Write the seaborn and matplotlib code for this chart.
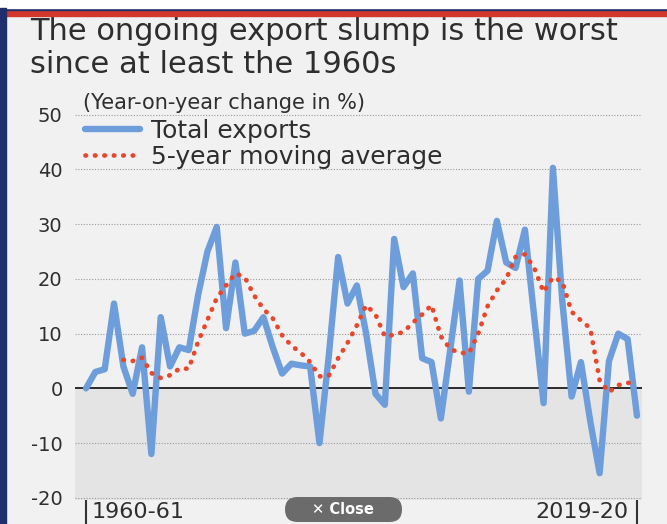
import numpy as np
import pandas as pd
import matplotlib
matplotlib.use("Agg")
import matplotlib.pyplot as plt
import seaborn as sns
from matplotlib.patches import Rectangle, FancyBboxPatch
from matplotlib.lines import Line2D
from matplotlib.transforms import IdentityTransform

# ---------------------------------------------------------------
# DATA
# ---------------------------------------------------------------
start_year = 1960
n_years = 60
years = [f"{y}-{str(y + 1)[-2:]}" for y in range(start_year, start_year + n_years)]

total_exports = [0, 3, 3.5, 15.5, 4, -1, 7.5, -12, 13, 4,
                 7.5, 7, 17, 25, 29.5, 11, 23, 10, 10.5, 13,
                 7.5, 2.7, 4.5, 4.2, 4, -10, 6, 24, 15.5, 18.8,
                 10, -1, -3, 27.3, 18.5, 21, 5.5, 4.8, -5.5, 7,
                 19.7, -0.6, 20, 21.5, 30.6, 23, 22, 29, 13, -2.7,
                 40.3, 16, -1.5, 4.8, -6, -15.5, 5, 10, 9, -5]

# 5-year moving average starts at the fifth year
moving_avg = [5.2, 5, 5.6, 2.8, 1.9, 2.4, 3.6, 3.6, 8.5, 12.5,
              16.5, 18.8, 21, 20.3, 17, 14.5, 12.8, 9.7, 7.8, 6.5,
              4.8, 2.2, 2.3, 5.5, 8.3, 11.5, 15.2, 13.5, 9.5, 9.8,
              10.3, 12, 13.5, 15.2, 9.5, 7.2, 6.5, 6.4, 10, 15,
              17.9, 20, 24, 24.5, 22, 17.6, 20.3, 19.5, 14, 12.4,
              11, 1.5, -0.7, 0.6, 1, 1]

y_ticks = [-20, -10, 0, 10, 20, 30, 40, 50]
x_label_years = [years[0], years[-1]]

title = "The ongoing export slump is the worst\nsince at least the 1960s"
unit_note = "(Year-on-year change in %)"
series_names = ["Total exports", "5-year moving average"]

# ---------------------------------------------------------------
# STYLE
# ---------------------------------------------------------------
BG = "#f1f1f1"
BLUE = "#6d9edb"
RED = "#e8472b"
TXT = "#2e2e2e"
DOTS = (0, (0.1, 1.9))

sns.set_style("white")
plt.rcParams["font.family"] = ["DejaVu Sans"]

idx = np.arange(n_years)
df_total = pd.DataFrame({"idx": idx, "value": total_exports})
df_ma = pd.DataFrame({"idx": idx[n_years - len(moving_avg):], "value": moving_avg})

fig = plt.figure(figsize=(6.67, 5.24), dpi=100, facecolor=BG)
ax = fig.add_axes([75 / 667, 1 - 500 / 524, 567 / 667, 388 / 524])
ax.set_facecolor(BG)

# shaded negative zone
ax.axhspan(-20.4, 0, color="#e4e4e4", zorder=0, lw=0)

# dotted grid
for t in y_ticks:
    if t != 0:
        ax.axhline(t, color="#9a9a9a", lw=0.8, ls=(0, (1, 1.5)), zorder=1)
ax.axhline(0, color="#2b2b2b", lw=1.4, zorder=2)

sns.lineplot(data=df_total, x="idx", y="value", ax=ax, color=BLUE,
             lw=4.6, zorder=3, solid_joinstyle="round", solid_capstyle="round")
sns.lineplot(data=df_ma, x="idx", y="value", ax=ax, color=RED,
             lw=3.4, ls=DOTS, dash_capstyle="round", zorder=4)

ax.set_xlim(-1.18, 59.54)
ax.set_ylim(-20.4, 50.5)
for s in ax.spines.values():
    s.set_visible(False)

ax.set_yticks(y_ticks)
ax.set_yticklabels([str(t) for t in y_ticks], fontsize=14, color=TXT)
ax.tick_params(axis="y", length=0, pad=9)

ax.set_xticks([0, n_years - 1])
ax.set_xticklabels([])
ax.tick_params(axis="x", bottom=True, length=19, width=1.5, color="#333333",
               direction="out")
ax.set_xlabel("")
ax.set_ylabel("")

ax.annotate(x_label_years[0], xy=(0, 0), xycoords=("data", "axes fraction"),
            xytext=(4, -9), textcoords="offset points", ha="left", va="center",
            fontsize=16, color=TXT)
ax.annotate(x_label_years[1], xy=(n_years - 1, 0), xycoords=("data", "axes fraction"),
            xytext=(-6, -9), textcoords="offset points", ha="right", va="center",
            fontsize=16, color=TXT)

# unit note + legend
ax.text(8 / 567, (500 - 103) / 388, unit_note, transform=ax.transAxes,
        ha="left", va="center", fontsize=15, color=TXT)
handles = [Line2D([], [], color=BLUE, lw=4.6, solid_capstyle="round"),
           Line2D([], [], color=RED, lw=3.4, ls=DOTS, dash_capstyle="round")]
leg = ax.legend(handles, series_names, loc="upper left",
                bbox_to_anchor=(10 / 567, (500 - 119) / 388), frameon=False,
                fontsize=18, handlelength=2.2, handletextpad=0.45,
                labelspacing=0.08, borderpad=0, borderaxespad=0)
for t in leg.get_texts():
    t.set_color(TXT)

# title
fig.text(30 / 667, 1 - 17 / 524, title, ha="left", va="top", fontsize=22,
         color=TXT, linespacing=1.18)

# frame decorations (top band + left border)
fig.patches.append(Rectangle((0, 1 - 16 / 524), 1, 6 / 524, transform=fig.transFigure,
                             color="#d1372a", zorder=5))
fig.patches.append(Rectangle((0, 1 - 10 / 524), 1, 2 / 524, transform=fig.transFigure,
                             color="#1f2f6b", zorder=5))
fig.patches.append(Rectangle((0, 1 - 8 / 524), 1, 8 / 524, transform=fig.transFigure,
                             color="white", zorder=5))
fig.patches.append(Rectangle((0, 0), 6 / 667, 1 - 8 / 524, transform=fig.transFigure,
                             color="#1f2f6b", zorder=6))

# close button overlay
fig.patches.append(FancyBboxPatch((285, 2), 117, 25, transform=IdentityTransform(),
                                  boxstyle="round,pad=0,rounding_size=12.5",
                                  fc="#6b6b6b", ec="none", zorder=7))
fig.text(343 / 667, 14.5 / 524, "\u2715 Close", ha="center", va="center",
         fontsize=10.5, fontweight="bold", color="white", zorder=8)

fig.savefig("out.png", dpi=100, facecolor=BG)
